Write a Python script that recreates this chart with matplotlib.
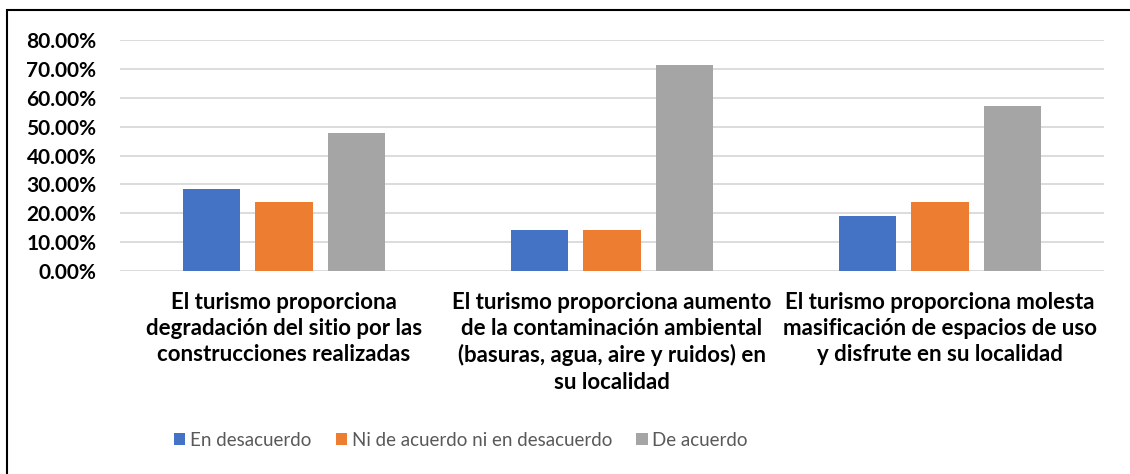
import matplotlib.pyplot as plt
import numpy as np
from matplotlib.patches import Rectangle
from matplotlib.ticker import FuncFormatter

plt.rcParams['font.family'] = ['Lato', 'DejaVu Sans']

categories = [
    "El turismo proporciona\ndegradación del sitio por las\nconstrucciones realizadas",
    "El turismo proporciona aumento\nde la contaminación ambiental\n(basuras, agua, aire y ruidos) en\nsu localidad",
    "El turismo proporciona molesta\nmasificación de espacios de uso\ny disfrute en su localidad",
]
series_names = ["En desacuerdo", "Ni de acuerdo ni en desacuerdo", "De acuerdo"]
en_desacuerdo = [28.57, 14.29, 19.05]
ni_ni = [23.81, 14.29, 23.81]
de_acuerdo = [47.62, 71.43, 57.14]
colors = ["#4472C4", "#ED7D31", "#A5A5A5"]

fig = plt.figure(figsize=(11.3, 4.74), dpi=100)
ax = fig.add_axes([120 / 1130, 203 / 474, 984 / 1130, 231 / 474])

x = np.arange(len(categories))
width = 0.174
step = 0.22
for i, (vals, name) in enumerate(zip([en_desacuerdo, ni_ni, de_acuerdo], series_names)):
    ax.bar(x + (i - 1) * step, vals, width, color=colors[i], label=name, zorder=3)

ax.set_xlim(-0.5, 2.5)
ax.set_ylim(0, 80)
ax.set_yticks(np.arange(0, 81, 10))
ax.yaxis.set_major_formatter(FuncFormatter(lambda v, p: f"{v:.2f}%"))
ax.grid(axis='y', color='#D9D9D9', linewidth=1.3, zorder=0)
for s in ax.spines.values():
    s.set_visible(False)
ax.tick_params(axis='both', length=0)
ax.tick_params(axis='y', pad=17)
for lab in ax.get_yticklabels():
    lab.set_fontweight('bold')
    lab.set_fontsize(15)
ax.set_xticks(x)
ax.set_xticklabels(categories, fontsize=16, fontweight='bold', linespacing=1.3, va='top')
ax.tick_params(axis='x', pad=15)

fig.legend(loc='center', bbox_to_anchor=(461 / 1130, 34 / 474), ncol=3, frameon=False,
           fontsize=13.5, handlelength=0.6, handleheight=0.6, handletextpad=0.25,
           columnspacing=1.3, labelcolor='#595959')

fig.patches.append(Rectangle((7 / 1130, -0.1), 1.2, 1 - 10 / 474 + 0.1, transform=fig.transFigure,
                             fill=False, edgecolor='black', linewidth=1.5))

fig.savefig("out.png", dpi=100)
